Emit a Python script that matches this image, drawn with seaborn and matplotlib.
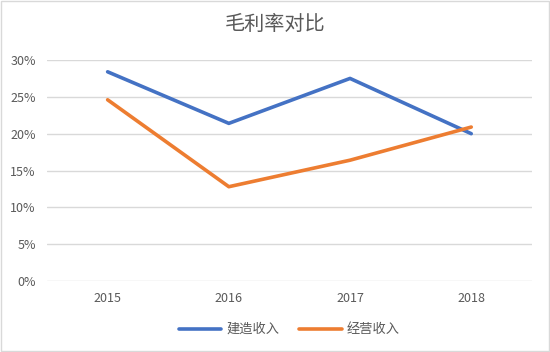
import matplotlib
matplotlib.use("Agg")
import matplotlib.pyplot as plt
import seaborn as sns
import pandas as pd
from matplotlib.ticker import FuncFormatter

years = ["2015", "2016", "2017", "2018"]
construction = [0.284, 0.214, 0.275, 0.200]
operation = [0.246, 0.128, 0.164, 0.209]
series_names = ["建造收入", "经营收入"]
title = "毛利率对比"

df = pd.DataFrame({
    "year": years * 2,
    "value": construction + operation,
    "series": [series_names[0]] * 4 + [series_names[1]] * 4,
})

sns.set_style("white")
plt.rcParams['font.family'] = ['Noto Sans CJK SC', 'DejaVu Sans']

fig = plt.figure(figsize=(5.5, 3.52), dpi=100)
ax = fig.add_axes([0.0855, 0.2017, 0.8815, 0.6278])

sns.lineplot(data=df, x="year", y="value", hue="series", sort=False,
             palette=["#4472C4", "#ED7D31"], linewidth=2.6, ax=ax, legend=True)

ax.set_xlim(-0.5, 3.5)
ax.set_ylim(0, 0.30)
ax.set_yticks([0, 0.05, 0.10, 0.15, 0.20, 0.25, 0.30])
ax.yaxis.set_major_formatter(FuncFormatter(lambda v, p: f"{v*100:.0f}%"))
ax.grid(axis="y", color="#D9D9D9", linewidth=1)
ax.set_axisbelow(True)
for s in ax.spines.values():
    s.set_visible(False)
ax.tick_params(axis="both", length=0, labelsize=9, colors="#595959", pad=8)
ax.tick_params(axis="x", pad=8)
ax.set_xlabel("")
ax.set_ylabel("")

fig.text(0.5, 0.93, title, ha="center", va="center", fontsize=14.5, color="#595959")

leg = ax.legend(loc="center", bbox_to_anchor=(0.5, -0.22), ncol=2, frameon=False,
                fontsize=9.5, handlelength=3.2, columnspacing=1.5, handletextpad=0.4)
for t in leg.get_texts():
    t.set_color("#595959")

fig.patches.append(plt.Rectangle((0.002, 0.003), 0.996, 0.994, transform=fig.transFigure,
                                 fill=False, edgecolor="#D9D9D9", linewidth=1))

fig.savefig("out.png", dpi=100)
